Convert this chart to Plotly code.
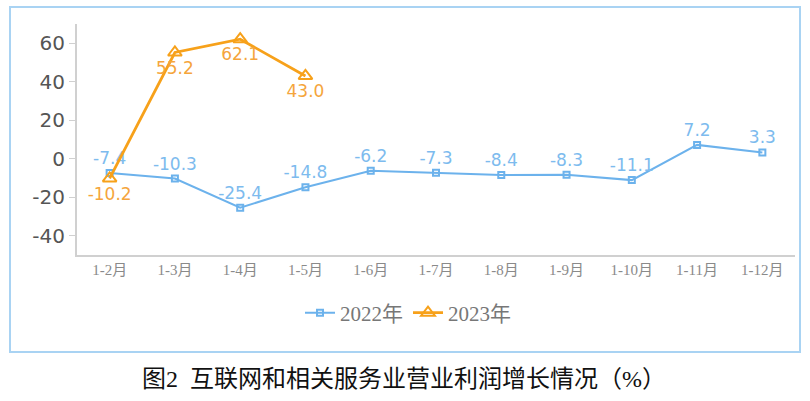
import plotly.graph_objects as go

categories = ["1-2月", "1-3月", "1-4月", "1-5月", "1-6月", "1-7月", "1-8月", "1-9月", "1-10月", "1-11月", "1-12月"]
values_2022 = [-7.4, -10.3, -25.4, -14.8, -6.2, -7.3, -8.4, -8.3, -11.1, 7.2, 3.3]
values_2023 = [-10.2, 55.2, 62.1, 43.0]
y_ticks = [-40, -20, 0, 20, 40, 60]
y_tick_labels = ["-40", "-20", "0", "20", "40", "60"]

W, H = 810, 401
L, R, T, B = 77, 15, 24, 146
pw, ph = W - L - R, H - T - B

def px(x):
    return (x - L) / pw

def py(y):
    return (H - B - y) / ph

blue = "#6cb2ec"
orange = "#f7a11a"

fig = go.Figure()
fig.add_trace(go.Scatter(
    x=categories, y=values_2022, name="2022年", mode="lines+markers+text",
    line=dict(color=blue, width=2),
    marker=dict(symbol="square-open", size=6, color=blue, line=dict(width=2)),
    text=[f"{v:.1f}" for v in values_2022], textposition="top center",
    textfont=dict(family="DejaVu Sans", size=17, color="#7dbbee"),
))
fig.add_trace(go.Scatter(
    x=categories[:len(values_2023)], y=values_2023, name="2023年", mode="lines+markers+text",
    line=dict(color=orange, width=2.8),
    marker=dict(symbol="triangle-up-open", size=12, color=orange, line=dict(width=2)),
    text=[f"{v:.1f}" for v in values_2023], textposition="bottom center",
    textfont=dict(family="DejaVu Sans", size=17, color="#f5a53c"),
))

fig.update_layout(
    width=W, height=H,
    margin=dict(l=L, r=R, t=T, b=B),
    paper_bgcolor="white", plot_bgcolor="white",
    showlegend=True,
    legend=dict(orientation="h", x=px(408), xanchor="center", y=py(313), yanchor="middle",
                font=dict(family="Liberation Serif, Noto Sans CJK SC", size=21, color="#777777"),
                itemwidth=30),
    xaxis=dict(type="category", range=[-0.5, 10.5], showgrid=False, showline=True,
               linecolor="#d0d0d0", linewidth=2, ticks="",
               tickfont=dict(family="Liberation Serif, Noto Sans CJK SC", size=15, color="#8a8a8a")),
    yaxis=dict(range=[-50, 70], tickvals=y_ticks, ticktext=y_tick_labels,
               showgrid=False, zeroline=False,
               showline=True, linecolor="#d0d0d0", linewidth=2,
               ticks="outside", ticklen=6, tickcolor="#d0d0d0", tickwidth=1,
               tickfont=dict(family="DejaVu Sans", size=20, color="#555555")),
    shapes=[dict(type="rect", xref="paper", yref="paper",
                 x0=px(10), x1=px(800), y0=py(352), y1=py(7),
                 line=dict(color="#a9d3f3", width=2), layer="below")],
    annotations=[dict(text="图2  互联网和相关服务业营业利润增长情况（%）", xref="paper", yref="paper",
                      x=px(404), y=py(379), xanchor="center", yanchor="middle", showarrow=False,
                      font=dict(family="Liberation Serif, Noto Sans CJK SC", size=24, color="#111111"))],
)

fig.write_html("out.html")
